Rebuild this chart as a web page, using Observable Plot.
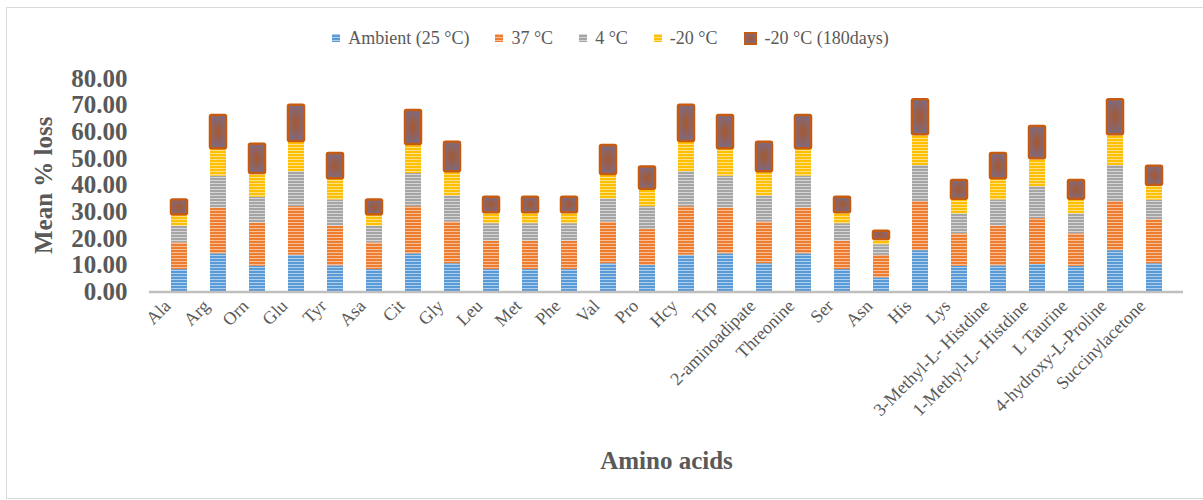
<!DOCTYPE html>
<html><head><meta charset="utf-8">
<script src="https://cdn.jsdelivr.net/npm/d3@7"></script>
<script src="https://cdn.jsdelivr.net/npm/@observablehq/plot@0.6"></script>
<style>
html,body{margin:0;padding:0;background:#fff;overflow:hidden;width:1203px;height:500px;}
#wrap{position:relative;width:1203px;height:500px;font-family:"Liberation Serif","Times New Roman",serif;}
#frame{position:absolute;left:6px;top:7px;width:1300px;height:492px;border:1.5px solid #d9d9d9;box-sizing:border-box;pointer-events:none;}
#legend{height:60px;display:flex;justify-content:center;align-items:flex-start;padding-left:18px;box-sizing:border-box;font-family:"Liberation Serif",serif;}
#legend .item{display:flex;align-items:center;margin:28px 13px 0 13px;font-size:18px;color:#595959;white-space:nowrap;line-height:20px;}
#legend svg{margin-right:8px;}
g[aria-label="x-axis label"], g[aria-label="y-axis label"]{font-size:25px;font-weight:bold;}
</style></head>
<body><div id="wrap"><div id="frame"></div><div id="legend"></div><div id="chart"></div></div>
<svg width="0" height="0" style="position:absolute">
<defs>
<pattern id="p0" width="6" height="3" patternUnits="userSpaceOnUse"><rect width="6" height="3" fill="#5B9BD5"/><rect width="6" height="1" fill="#AFCFEE"/></pattern>
<pattern id="p1" width="6" height="3" patternUnits="userSpaceOnUse"><rect width="6" height="3" fill="#ED7D31"/><rect width="6" height="1" fill="#F7BE98"/></pattern>
<pattern id="p2" width="6" height="3" patternUnits="userSpaceOnUse"><rect width="6" height="3" fill="#A5A5A5"/><rect width="6" height="1" fill="#D6D6D6"/></pattern>
<pattern id="p3" width="6" height="3" patternUnits="userSpaceOnUse"><rect width="6" height="3" fill="#FFC000"/><rect width="6" height="1" fill="#FFE08A"/></pattern>
<radialGradient id="g4" cx="50%" cy="50%" r="60%"><stop offset="0%" stop-color="#A8582C"/><stop offset="100%" stop-color="#766D90"/></radialGradient>
</defs></svg>
<script>
const categories = ["Ala","Arg","Orn","Glu","Tyr","Asa","Cit","Gly","Leu","Met","Phe","Val","Pro","Hcy","Trp","2-aminoadipate","Threonine","Ser","Asn","His","Lys","3-Methyl-L- Histdine","1-Methyl-L- Histdine","L Taurine","4-hydroxy-L-Proline","Succinylacetone"];
const series = ["Ambient (25 °C)", "37 °C", "4 °C", "-20 °C", "-20 °C (180days)"];
const ambient = [8.4,14.3,9.6,13.8,9.8,8.4,14.3,10.6,8.4,8.4,8.4,10.6,9.9,13.8,14.3,10.6,14.3,8.4,5.3,15.5,9.6,9.8,10.3,9.6,15.5,10.6];
const c37 = [10.0,17.2,16.2,18.2,14.9,10.0,17.7,15.6,10.6,10.6,10.6,15.6,13.5,18.2,17.2,15.6,17.2,10.6,8.4,18.4,12.2,14.9,17.2,12.2,18.4,16.5];
const c4 = [6.3,11.9,9.7,13.1,9.8,6.3,12.4,9.8,6.6,6.6,6.6,8.7,8.6,13.1,11.9,9.8,11.9,6.6,4.0,13.5,7.5,9.8,12.0,7.5,13.5,7.3];
const m20 = [4.2,10.3,8.9,11.3,7.9,4.2,10.9,9.1,4.1,4.1,4.1,9.1,6.5,11.3,10.3,9.1,10.3,4.1,2.0,11.5,5.5,7.9,10.4,5.5,11.5,5.6];
const m20d180 = [5.6,12.4,11.0,13.6,9.5,5.6,12.7,11.0,5.8,5.8,5.8,10.9,8.3,13.6,12.4,11.0,12.4,5.8,3.1,13.1,7.0,9.5,12.1,7.0,13.1,7.1];
const yTicks = [0,10,20,30,40,50,60,70,80];

const seriesValues = [ambient, c37, c4, m20, m20d180];
const fills = ["url(#p0)","url(#p1)","url(#p2)","url(#p3)","url(#g4)"];

const rows = [];
categories.forEach((c, i) => {
  seriesValues.forEach((vals, s) => rows.push({cat: c, series: series[s], value: vals[i]}));
});
const darkRows = categories.map((c, i) => {
  const base = ambient[i] + c37[i] + c4[i] + m20[i];
  return {cat: c, y1: base, y2: base + m20d180[i]};
});

// legend
const legend = document.getElementById("legend");
series.forEach((s, k) => {
  const item = document.createElement("div");
  item.className = "item";
  const dark = k === 4;
  const sz = dark ? 13 : 8;
  item.innerHTML = `<svg width="${sz}" height="${sz}">` +
    (dark ? `<rect x="1" y="1" width="11" height="11" fill="url(#g4)" stroke="#C55A11" stroke-width="2"/>`
          : `<rect width="8" height="8" fill="${fills[k]}"/>`) +
    `</svg><span>${s}</span>`;
  legend.appendChild(item);
});

const chart = Plot.plot({
  width: 1203,
  height: 440,
  marginTop: 18,
  marginBottom: 208.5,
  marginLeft: 149,
  marginRight: 20,
  style: {fontFamily: '"Liberation Serif","Times New Roman",serif', color: "#595959", background: "transparent", overflow: "visible"},
  x: {domain: categories, paddingInner: 0.6, paddingOuter: 0.3},
  y: {domain: [0, 80]},
  color: {domain: series, range: fills},
  marks: [
    Plot.barY(rows, Plot.stackY({x: "cat", y: "value", z: "series", fill: "series", order: series})),
    Plot.barY(darkRows, {x: "cat", y1: "y1", y2: "y2", fill: "none", stroke: "#C55A11", strokeWidth: 2.5, rx: 1.5}),
    Plot.ruleY([0], {stroke: "#BFBFBF", strokeWidth: 2.5}),
    Plot.axisY({ticks: yTicks, tickFormat: d3.format(".2f"), tickSize: 0, tickPadding: 22, fontSize: 25, fontWeight: "bold", fill: "#595959",
      label: "Mean % loss", labelAnchor: "center", labelOffset: 115, labelArrow: "none"}),
    Plot.axisX({tickRotate: -45, tickSize: 0, tickPadding: 11, dx: -12, fontSize: 18, fill: "#595959",
      label: "Amino acids", labelAnchor: "center", labelOffset: 177, labelArrow: "none"})
  ]
});
document.getElementById("chart").appendChild(chart);
</script>
</body></html>
